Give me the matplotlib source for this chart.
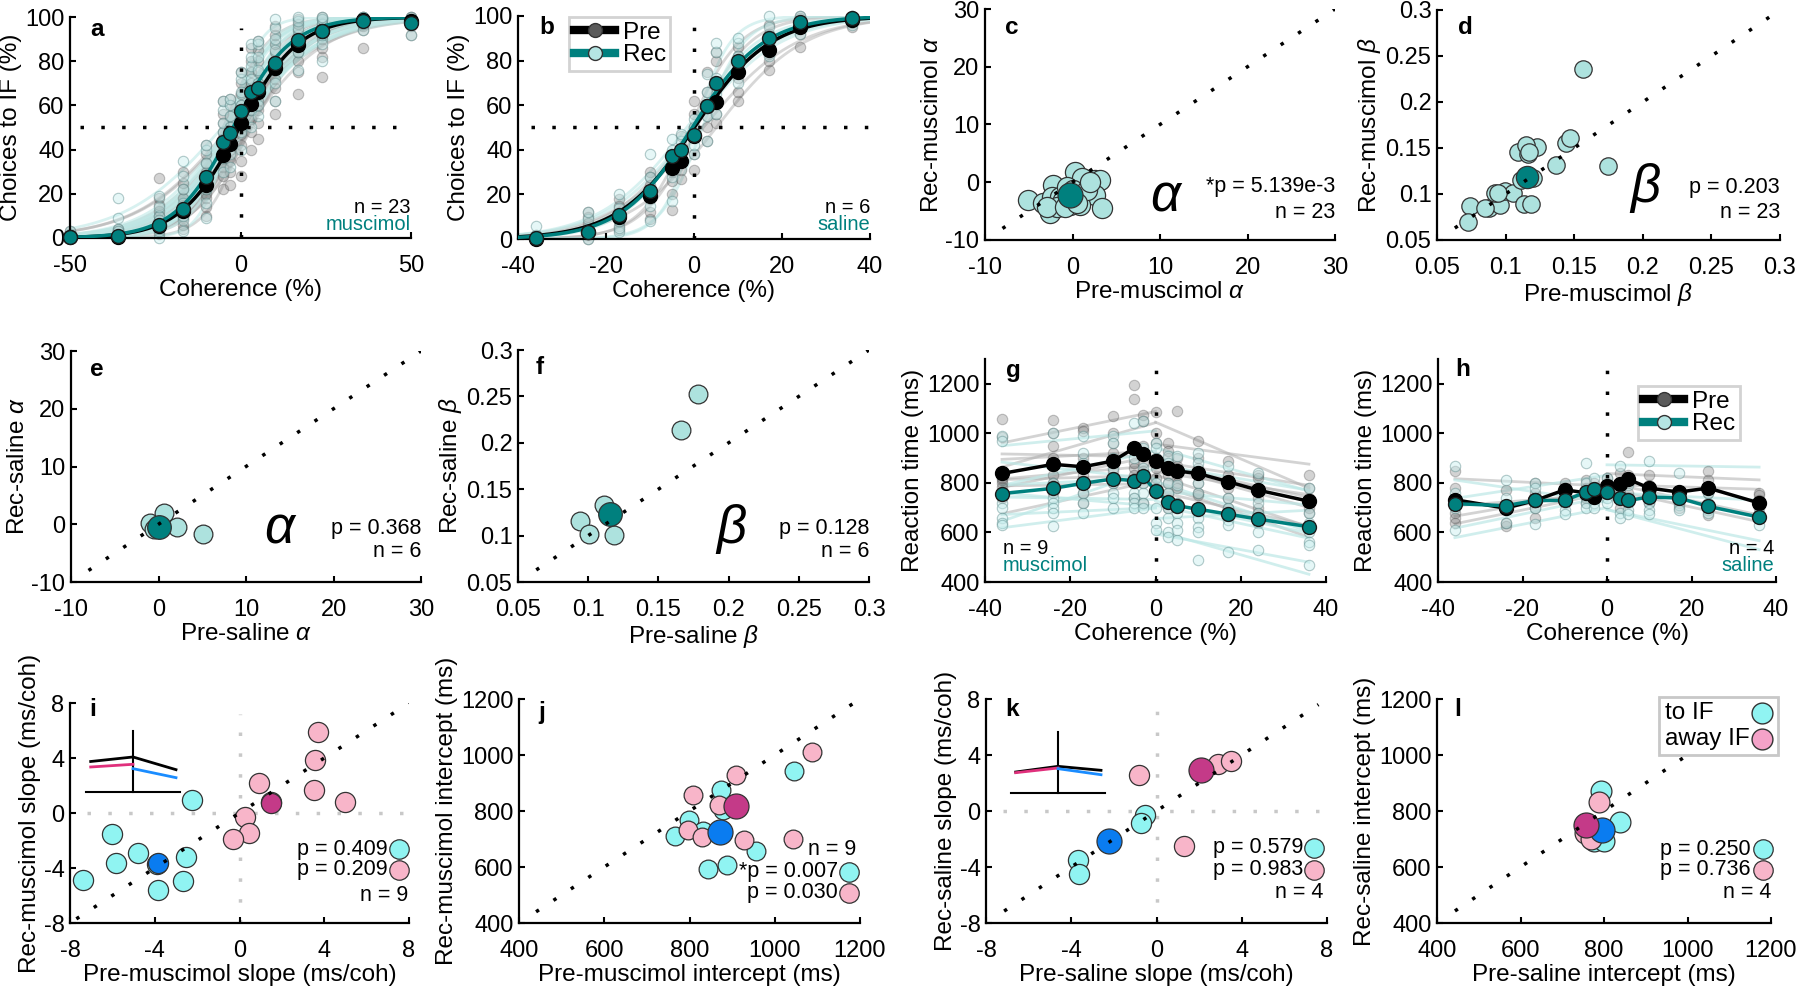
import numpy as np
import matplotlib
matplotlib.use('Agg')
import matplotlib.pyplot as plt
from matplotlib.lines import Line2D
from matplotlib.patches import Rectangle

plt.rcParams['font.family'] = ['Liberation Sans', 'DejaVu Sans']
plt.rcParams['mathtext.fontset'] = 'custom'
plt.rcParams['mathtext.it'] = 'Liberation Sans:italic'
plt.rcParams['mathtext.rm'] = 'Liberation Sans'
plt.rcParams['axes.unicode_minus'] = False

# ---------------- data ----------------
coh_a = [-50, -36, -24, -17, -10, -5, -3, 0, 3, 5, 10, 17, 24, 36, 50]
a_pre_mean = [0.5, 0.5, 5.3, 12, 24, 37.6, 42.6, 52.2, 60.6, 66.2, 76.7, 87.5, 93.7, 98.8, 98.2]
a_rec_mean = [0.5, 0.8, 5.9, 13.2, 27.8, 43.6, 47.4, 57.4, 66.2, 68, 79.2, 89.5, 93.7, 98.2, 97.3]
a_pre_dots = [[0, 1, 2, 0, 1, 3, 0, 2], [0, 1, 2, 3, 1, 0, 2, 1, 4],
              [2, 4, 6, 8, 10, 12, 15, 18, 27, 5, 7], [4, 6, 9, 12, 15, 18, 22, 25, 30, 10, 14],
              [10, 14, 18, 22, 26, 30, 34, 38, 42, 20, 28], [22, 28, 32, 36, 40, 44, 48, 52, 56, 62, 38],
              [24, 30, 35, 40, 45, 50, 55, 60, 63, 42], [28, 35, 42, 47, 50, 55, 60, 65, 70, 75, 52],
              [40, 48, 54, 58, 62, 66, 70, 75, 80, 86], [45, 52, 58, 62, 66, 70, 75, 80, 85, 89],
              [56, 62, 68, 72, 76, 80, 84, 88, 92, 96], [65, 75, 80, 84, 88, 91, 94, 97, 99],
              [73, 82, 86, 90, 93, 95, 97, 99, 100], [86, 94, 96, 98, 99, 100, 100],
              [92, 96, 98, 99, 100, 100]]
a_rec_dots = [[0, 1, 2, 1, 0, 3], [0, 2, 4, 9, 18, 1, 3], [0, 3, 6, 10, 14, 19, 8, 4],
              [3, 8, 12, 16, 22, 28, 35, 10], [9, 16, 22, 28, 34, 40, 42, 25],
              [30, 36, 42, 48, 52, 58, 62, 45], [32, 38, 44, 50, 55, 60, 63, 48],
              [40, 48, 55, 60, 66, 72, 75, 58], [50, 58, 64, 68, 72, 78, 82, 88],
              [55, 60, 66, 70, 76, 82, 88, 89], [62, 70, 76, 80, 85, 90, 95, 99],
              [76, 84, 88, 92, 95, 98, 100], [80, 88, 92, 95, 97, 99, 100],
              [94, 97, 99, 100, 100], [92, 97, 99, 100]]

coh_b = [-36, -24, -17, -10, -5, -3, 0, 3, 5, 10, 17, 24, 36]
b_pre_mean = [0.2, 3, 10, 19.3, 31.7, 35, 46.2, 59.6, 61.6, 75, 84.8, 95, 98]
b_rec_mean = [0.6, 3.3, 10.8, 21.7, 37, 40, 46.6, 59.6, 70, 80, 90.3, 97.2, 99]
b_pre_dots = [[0, 1, 0, 2, 1], [0, 2, 4, 7, 10, 12], [4, 6, 8, 11, 15, 18], [9, 12, 18, 24, 28, 30],
              [13, 20, 26, 30, 35, 38], [27, 31, 35, 40, 46], [31, 38, 46, 50, 56, 62],
              [44, 50, 55, 60, 66, 75], [52, 56, 62, 70, 80, 84], [62, 66, 72, 78, 82, 86],
              [76, 80, 83, 88, 92, 96], [86, 92, 95, 97, 99, 100], [95, 97, 98, 99, 100]]
b_rec_dots = [[0, 1, 2, 6], [0, 3, 5, 9, 12], [3, 5, 8, 14, 20], [8, 15, 22, 28, 38],
              [17, 28, 35, 40, 45], [36, 40, 44, 47], [38, 42, 46, 50, 54], [44, 55, 60, 66, 74],
              [56, 65, 72, 84, 88], [70, 78, 82, 88, 90], [82, 86, 90, 95, 100],
              [92, 96, 98, 100], [96, 98, 99, 100]]

# psychometric parameters (muscimol c/d, saline e/f)
c_pre_alpha = [-5.05, -3.33, -2.57, -2.19, -2.38, -1.43, 0.29, 1.05, 2.57, 3.14, 2.57, 3.33,
               0.86, -0.29, -1.05, -0.67, 0.10, -1.80, 1.60, -2.95, -0.86, 1.98, 0.48]
c_rec_alpha = [-3.08, -3.65, -5.38, -0.48, -2.50, -2.50, 1.83, 0.67, 0.39, 0.39, -2.20, -4.50,
               -3.90, -3.90, -3.10, -0.77, -1.34, -4.20, -1.30, -4.20, -4.20, 0.10, -3.65]
c_mean = [-0.29, -2.2]
d_pre_beta = [0.1567, 0.0738, 0.0729, 0.0876, 0.0960, 0.0924, 0.0995, 0.1055, 0.1133, 0.1186,
              0.1090, 0.1162, 0.1229, 0.1150, 0.1198, 0.1369, 0.1440, 0.1467, 0.1745, 0.1114,
              0.0948, 0.0852, 0.1174]
d_rec_beta = [0.2359, 0.0873, 0.0699, 0.0844, 0.0880, 0.1014, 0.1036, 0.1007, 0.0891, 0.0891,
              0.1460, 0.1435, 0.1514, 0.1533, 0.1170, 0.1315, 0.1550, 0.1612, 0.1308, 0.1152,
              0.1014, 0.0844, 0.1460]
d_mean = [0.1155, 0.1188]
e_pre_alpha = [-0.93, 0.59, 2.11, 5.05, -0.55, -0.17]
e_rec_alpha = [0.30, 1.91, -0.39, -1.65, -0.85, -0.39]
e_mean = [0.06, -0.4]
f_pre_beta = [0.1782, 0.1659, 0.0944, 0.1006, 0.1110, 0.1184]
f_rec_beta = [0.2522, 0.2137, 0.1158, 0.1014, 0.1327, 0.1004]
f_mean = [0.1153, 0.1237]

coh_rt = [-36, -24, -17, -10, -5, -3, 0, 3, 5, 10, 17, 24, 36]
g_pre_mean = [838, 875, 865, 888, 940, 915, 890, 859, 848, 838, 805, 771, 726]
g_rec_mean = [757, 778, 798, 816, 809, 828, 768, 724, 708, 694, 674, 654, 623]
g_pre_dots = [[1057, 985, 810, 785, 760, 740, 800, 820], [1055, 1000, 950, 900, 870, 830, 800, 780, 760],
              [1020, 1010, 900, 860, 830, 800, 760, 720], [1070, 1000, 960, 920, 880, 850, 800],
              [1195, 1140, 940, 880, 860, 830, 800, 740], [1075, 1050, 950, 920, 880, 850, 800, 720],
              [1085, 1000, 960, 900, 860, 820, 780], [960, 930, 900, 870, 830, 800, 760, 720, 700],
              [1090, 900, 870, 830, 800, 780, 720, 700], [970, 900, 860, 800, 760, 750, 700],
              [890, 830, 800, 780, 740, 700], [830, 820, 780, 740, 700, 680],
              [830, 780, 740, 720, 700, 680]]
g_rec_dots = [[990, 970, 760, 720, 700, 660, 640, 630], [1000, 800, 780, 740, 720, 700, 680, 625],
              [990, 920, 880, 800, 760, 720, 680], [990, 960, 900, 860, 800, 760, 740, 700],
              [1040, 900, 800, 760, 740, 720, 700], [1050, 940, 860, 800, 760, 720, 700],
              [960, 940, 900, 800, 760, 700, 640, 610], [910, 880, 800, 760, 700, 660, 600, 580],
              [910, 850, 790, 720, 680, 640, 610, 570], [920, 880, 800, 760, 700, 660, 620, 600, 490],
              [870, 800, 740, 700, 650, 630, 520], [840, 780, 720, 680, 640, 600, 530],
              [780, 720, 680, 640, 600, 560, 550, 470]]
h_pre_mean = [732, 698, 729, 772, 760, 745, 789, 797, 815, 779, 763, 779, 719]
h_rec_mean = [716, 708, 729, 729, 763, 775, 762, 739, 729, 743, 739, 705, 662]
h_pre_dots = [[850, 780, 720, 680, 660, 640], [770, 700, 640, 625], [800, 760, 700, 660],
              [800, 780, 760, 740], [810, 780, 760, 740, 720], [800, 760, 740], [820, 800, 780, 760],
              [840, 800, 760, 700], [925, 830, 800, 760], [830, 790, 760, 720], [760, 740, 720, 700],
              [850, 810, 760, 700, 670], [760, 750, 730, 700]]
h_rec_dots = [[870, 760, 700, 610], [810, 740, 690, 640], [800, 780, 700, 635], [740, 720, 690, 675],
              [880, 800, 720, 700], [820, 760, 720, 700], [820, 790, 740, 720], [870, 760, 680, 660],
              [790, 720, 690, 675], [890, 780, 720, 690, 675], [840, 760, 710, 690],
              [760, 720, 690, 680], [720, 680, 660, 630]]

# RT fit slopes (ms/coh) and intercepts (ms): muscimol i/j, saline k/l
i_to_pre = [-7.40, -6.03, -5.83, -4.78, -3.83, -2.54, -2.69, -2.26, -3.90]
i_to_rec = [-4.86, -1.55, -3.60, -2.88, -5.58, -3.17, -4.91, 0.94, -3.70]
i_to_mean = [-3.83, -3.65]
i_away_pre = [3.71, 3.56, 3.52, 4.97, 0.92, 0.25, 0.46, -0.33, 1.50]
i_away_rec = [5.90, 3.89, 1.67, 0.77, 2.20, -0.27, -1.47, -1.91, 0.80]
i_away_mean = [1.51, 0.75]
j_to_pre = [1045, 798, 832, 873, 879, 844, 887, 957, 767]
j_to_rec = [942, 767, 727, 874, 805, 594, 608, 656, 710]
j_to_mean = [871, 725]
j_away_pre = [809, 910, 1088, 1043, 928, 797, 830, 905, 870]
j_away_rec = [858, 930, 1010, 700, 698, 733, 706, 815, 820]
j_away_mean = [908, 817]
k_to_pre = [-0.52, -0.72, -3.69, -3.62]
k_to_rec = [-0.26, -0.86, -3.48, -4.48]
k_to_mean = [-2.21, -2.17]
k_away_pre = [-0.83, 1.29, 2.90, 3.48]
k_away_rec = [2.60, -2.52, 3.36, 3.55]
k_away_mean = [2.10, 2.95]
l_to_pre = [793, 838, 776, 801]
l_to_rec = [873, 761, 692, 692]
l_to_mean = [795, 731]
l_away_pre = [787, 754, 770, 760]
l_away_rec = [831, 721, 700, 745]
l_away_mean = [758, 751]

# ---------------- style ----------------
W, H = 1800, 996
TEAL = '#00807e'
LTEAL = '#ade2de'
CYAN = '#90f4f2'
PINK = '#f8b5c9'
BLUE = '#0a7cf0'
MAG = '#c43a88'
EDGE = '#333333'
TICK_FS = 17
LAB_FS = 17.5
ANN_FS = 15.5
DOT = (0, (1, 5))

fig = plt.figure(figsize=(W / 100, H / 100), dpi=100)


def fx(x):
    return x / W


def fy(y):
    return 1 - y / H


def add_ax(l, t, r, b):
    return fig.add_axes([l / W, 1 - b / H, (r - l) / W, (b - t) / H])


def style(ax, xl, yl):
    for s in ['top', 'right']:
        ax.spines[s].set_visible(False)
    for s in ['left', 'bottom']:
        ax.spines[s].set_linewidth(1.6)
    ax.tick_params(direction='in', length=4.5, width=1.5, labelsize=TICK_FS)
    ax.tick_params(axis='x', pad=12)
    ax.tick_params(axis='y', pad=4)
    ax.set_xlabel(xl, fontsize=LAB_FS, labelpad=2)
    ax.set_ylabel(yl, fontsize=LAB_FS, labelpad=2)


def letter(ax, s, x, y):
    fig.text(fx(x), fy(y), s, fontsize=17.5, fontweight='bold', ha='center', va='center')


def psych(ax, coh, pre_mean, rec_mean, pre_dots, rec_dots, pa, pb, ra, rb, pm, rm, xlim):
    xs = np.linspace(xlim[0], xlim[1], 300)
    for al, be in zip(pa, pb):
        ax.plot(xs, 100 / (1 + np.exp(-be * (xs - al))), color='#a8a8a8', lw=2, alpha=0.45, zorder=1)
    for al, be in zip(ra, rb):
        ax.plot(xs, 100 / (1 + np.exp(-be * (xs - al))), color='#bfe8e6', lw=2, alpha=0.6, zorder=1)
    for c, vals in zip(coh, pre_dots):
        ax.plot([c] * len(vals), vals, 'o', ms=7.5, mfc='#707070', mec='#404040', mew=0.8,
                alpha=0.3, zorder=2, clip_on=False)
    for c, vals in zip(coh, rec_dots):
        ax.plot([c] * len(vals), vals, 'o', ms=7.5, mfc='#c8eeee', mec='#5a8a8a', mew=0.8,
                alpha=0.45, zorder=2, clip_on=False)
    ax.plot([0, 0], [0, 95], color='k', ls=DOT, lw=2.5, zorder=3)
    ax.plot([xlim[0] + 3, xlim[1]], [50, 50], color='k', ls=DOT, lw=2.5, zorder=3)
    ax.plot(xs, 100 / (1 + np.exp(-pm[1] * (xs - pm[0]))), color='k', lw=2.5, zorder=4)
    ax.plot(xs, 100 / (1 + np.exp(-rm[1] * (xs - rm[0]))), color=TEAL, lw=2.5, zorder=5)
    ax.plot(coh, pre_mean, 'o', ms=10, mfc='k', mec='k', zorder=6, clip_on=False)
    ax.plot(coh, rec_mean, 'o', ms=10, mfc=TEAL, mec='#1a1a1a', mew=1, zorder=7, clip_on=False)
    ax.set_xlim(*xlim)
    ax.set_ylim(0, 100)
    ax.set_yticks([0, 20, 40, 60, 80, 100])


def param_scatter(ax, px, py, mean, lim, diag, ms, mms):
    ax.plot(diag, diag, color='k', ls=DOT, lw=2.5, zorder=5)
    ax.plot(px, py, 'o', ms=ms, mfc=LTEAL, mec=EDGE, mew=0.9, zorder=3, clip_on=False)
    ax.plot([mean[0]], [mean[1]], 'o', ms=mms, mfc=TEAL, mec=EDGE, mew=0.9, zorder=4)
    ax.set_xlim(*lim)
    ax.set_ylim(*lim)


def rt_panel(ax, pre_mean, rec_mean, pre_dots, rec_dots, to_pre, to_rec, aw_pre, aw_rec,
             ti_pre, ti_rec, ai_pre, ai_rec):
    left = np.array([-36, 0])
    right = np.array([0, 36])
    for s_to, s_aw, i_to, i_aw in zip(to_pre, aw_pre, ti_pre, ai_pre):
        ax.plot(left, i_aw + s_aw * left, color='#b0b0b0', lw=2, alpha=0.55, zorder=1)
        ax.plot(right, i_to + s_to * right, color='#b0b0b0', lw=2, alpha=0.55, zorder=1)
    for s_to, s_aw, i_to, i_aw in zip(to_rec, aw_rec, ti_rec, ai_rec):
        ax.plot(left, i_aw + s_aw * left, color='#bde8e6', lw=2, alpha=0.7, zorder=1)
        ax.plot(right, i_to + s_to * right, color='#bde8e6', lw=2, alpha=0.7, zorder=1)
    for c, vals in zip(coh_rt, pre_dots):
        ax.plot([c] * len(vals), vals, 'o', ms=7.5, mfc='#707070', mec='#404040', mew=0.8,
                alpha=0.3, zorder=2)
    for c, vals in zip(coh_rt, rec_dots):
        ax.plot([c] * len(vals), vals, 'o', ms=7.5, mfc='#c8eeee', mec='#5a8a8a', mew=0.8,
                alpha=0.45, zorder=2)
    ax.plot([0, 0], [400, 1260], color='k', ls=DOT, lw=2.5, zorder=3)
    ax.plot(coh_rt, pre_mean, '-o', color='k', lw=2.5, ms=10, mfc='k', mec='k', zorder=6)
    ax.plot(coh_rt, rec_mean, '-o', color=TEAL, lw=2.5, ms=10, mfc=TEAL, mec='#1a1a1a', zorder=7)
    ax.set_xlim(-40, 40)
    ax.set_ylim(400, 1300)
    ax.set_xticks([-40, -20, 0, 20, 40])
    ax.set_yticks([400, 600, 800, 1000, 1200])


def slope_panel(ax, to_p, to_r, aw_p, aw_r, to_m, aw_m, lim, diag, zero_lines, ms, mms):
    if zero_lines:
        ax.plot([0, 0], [lim[0], lim[1] - 0.8], color='#c8c8c8', ls=DOT, lw=2.5, zorder=1)
        ax.plot([lim[0] + 0.8, lim[1]], [0, 0], color='#c8c8c8', ls=DOT, lw=2.5, zorder=1)
    ax.plot(to_p, to_r, 'o', ms=ms, mfc=CYAN, mec=EDGE, mew=0.9, zorder=3, clip_on=False)
    ax.plot(aw_p, aw_r, 'o', ms=ms, mfc=PINK, mec=EDGE, mew=0.9, zorder=3, clip_on=False)
    ax.plot([to_m[0]], [to_m[1]], 'o', ms=mms, mfc=BLUE, mec=EDGE, mew=0.9, zorder=4)
    ax.plot([aw_m[0]], [aw_m[1]], 'o', ms=mms, mfc=MAG, mec=EDGE, mew=0.9, zorder=4)
    ax.plot(diag, diag, color='k', ls=DOT, lw=2.5, zorder=5)
    ax.set_xlim(*lim)
    ax.set_ylim(*lim)


def ptext(ax, lines, xr, ys, circ_x=None, fs=ANN_FS):
    for (txt, col), y in zip(lines, ys):
        ax.text(xr, y, txt, transform=ax.transAxes, ha='right', va='center', fontsize=fs)
        if col is not None:
            ax.plot([circ_x], [y], 'o', ms=14, mfc=col, mec=EDGE, mew=0.9,
                    transform=ax.transAxes, clip_on=False, zorder=8)


# ---------------- panel a ----------------
ax = add_ax(70, 17, 411, 238)
psych(ax, coh_a, a_pre_mean, a_rec_mean, a_pre_dots, a_rec_dots, c_pre_alpha, d_pre_beta,
      c_rec_alpha, d_rec_beta, [c_mean[0], d_mean[0]], [c_mean[1], d_mean[1]], (-50, 50))
ax.set_xticks([-50, 0, 50])
style(ax, 'Coherence (%)', 'Choices to IF (%)')
ax.text(1.0, 0.14, 'n = 23', transform=ax.transAxes, ha='right', va='center', fontsize=14.5)
ax.text(1.0, 0.063, 'muscimol', transform=ax.transAxes, ha='right', va='center', fontsize=14.5, color=TEAL)
letter(ax, 'a', 97, 29)

# ---------------- panel b ----------------
ax = add_ax(518, 16, 870, 239)
psych(ax, coh_b, b_pre_mean, b_rec_mean, b_pre_dots, b_rec_dots, e_pre_alpha, f_pre_beta,
      e_rec_alpha, f_rec_beta, [e_mean[0], f_mean[0]], [e_mean[1], f_mean[1]], (-40, 40))
ax.set_xticks([-40, -20, 0, 20, 40])
style(ax, 'Coherence (%)', 'Choices to IF (%)')
ax.text(1.0, 0.143, 'n = 6', transform=ax.transAxes, ha='right', va='center', fontsize=14.5)
ax.text(1.0, 0.067, 'saline', transform=ax.transAxes, ha='right', va='center', fontsize=14.5, color=TEAL)
letter(ax, 'b', 547, 27)
handles = [Line2D([0], [0], color='k', lw=6, marker='o', ms=10, mfc='#5a5a5a', mec='#333333'),
           Line2D([0], [0], color=TEAL, lw=6, marker='o', ms=10, mfc='#b5e5e3', mec='#333333')]
leg = ax.legend(handles, ['Pre', 'Rec'], loc='upper left', bbox_to_anchor=(0.145, 0.995),
                borderaxespad=0, fontsize=17.5, handlelength=1.7, handletextpad=0.3, borderpad=0.2,
                labelspacing=0.02, fancybox=False, edgecolor='#c8c8c8')
leg.get_frame().set_linewidth(2)

# ---------------- panel c ----------------
ax = add_ax(985, 9, 1335, 240)
param_scatter(ax, c_pre_alpha, c_rec_alpha, c_mean, (-10, 30), [-8, 30], 14.5, 18)
ax.set_xticks([-10, 0, 10, 20, 30]); ax.set_yticks([-10, 0, 10, 20, 30])
style(ax, r'Pre-muscimol $\alpha$', r'Rec-muscimol $\alpha$')
ax.text(0.52, 0.19, r'$\alpha$', transform=ax.transAxes, ha='center', va='center', fontsize=38)
ptext(ax, [('*p = 5.139e-3', None), ('n = 23', None)], 1.0, [0.23, 0.12])
letter(ax, 'c', 1012, 28)

# ---------------- panel d ----------------
ax = add_ax(1437, 10, 1780, 240)
param_scatter(ax, d_pre_beta, d_rec_beta, d_mean, (0.05, 0.3), [0.063, 0.3], 12.5, 16)
bt = [0.05, 0.1, 0.15, 0.2, 0.25, 0.3]
btl = ['0.05', '0.1', '0.15', '0.2', '0.25', '0.3']
ax.set_xticks(bt, btl); ax.set_yticks(bt, btl)
style(ax, r'Pre-muscimol $\beta$', r'Rec-muscimol $\beta$')
ax.text(0.606, 0.226, r'$\beta$', transform=ax.transAxes, ha='center', va='center', fontsize=38)
ptext(ax, [('p = 0.203', None), ('n = 23', None)], 1.0, [0.23, 0.12])
letter(ax, 'd', 1465, 27)

# ---------------- panel e ----------------
ax = add_ax(71, 351, 421, 582)
param_scatter(ax, e_pre_alpha, e_rec_alpha, e_mean, (-10, 30), [-8, 30], 13.5, 17)
ax.set_xticks([-10, 0, 10, 20, 30]); ax.set_yticks([-10, 0, 10, 20, 30])
style(ax, r'Pre-saline $\alpha$', r'Rec-saline $\alpha$')
ax.text(0.60, 0.23, r'$\alpha$', transform=ax.transAxes, ha='center', va='center', fontsize=38)
ptext(ax, [('p = 0.368', None), ('n = 6', None)], 1.0, [0.23, 0.13])
letter(ax, 'e', 97, 370)

# ---------------- panel f ----------------
ax = add_ax(518, 350, 869, 582)
param_scatter(ax, f_pre_beta, f_rec_beta, f_mean, (0.05, 0.3), [0.063, 0.3], 13.5, 17)
ax.set_xticks(bt, btl); ax.set_yticks(bt, btl)
style(ax, r'Pre-saline $\beta$', r'Rec-saline $\beta$')
ax.text(0.607, 0.23, r'$\beta$', transform=ax.transAxes, ha='center', va='center', fontsize=38)
ptext(ax, [('p = 0.128', None), ('n = 6', None)], 1.0, [0.23, 0.13])
letter(ax, 'f', 540, 368)

# ---------------- panel g ----------------
ax = add_ax(985, 359, 1326, 582)
rt_panel(ax, g_pre_mean, g_rec_mean, g_pre_dots, g_rec_dots, i_to_pre, i_to_rec, i_away_pre,
         i_away_rec, j_to_pre, j_to_rec, j_away_pre, j_away_rec)
style(ax, 'Coherence (%)', 'Reaction time (ms)')
ax.text(0.053, 0.152, 'n = 9', transform=ax.transAxes, ha='left', va='center', fontsize=14.5)
ax.text(0.053, 0.076, 'muscimol', transform=ax.transAxes, ha='left', va='center', fontsize=14.5, color=TEAL)
letter(ax, 'g', 1013, 370)

# ---------------- panel h ----------------
ax = add_ax(1438, 359, 1776, 582)
rt_panel(ax, h_pre_mean, h_rec_mean, h_pre_dots, h_rec_dots, k_to_pre, k_to_rec, k_away_pre,
         k_away_rec, l_to_pre, l_to_rec, l_away_pre, l_away_rec)
style(ax, 'Coherence (%)', 'Reaction time (ms)')
ax.text(0.995, 0.152, 'n = 4', transform=ax.transAxes, ha='right', va='center', fontsize=14.5)
ax.text(0.995, 0.076, 'saline', transform=ax.transAxes, ha='right', va='center', fontsize=14.5, color=TEAL)
letter(ax, 'h', 1463, 370)
leg = ax.legend(handles, ['Pre', 'Rec'], loc='upper left', bbox_to_anchor=(0.592, 0.879),
                borderaxespad=0, fontsize=17.5, handlelength=1.7, handletextpad=0.3, borderpad=0.2,
                labelspacing=0.02, fancybox=False, edgecolor='#c8c8c8')
leg.get_frame().set_linewidth(2)

# ---------------- panel i ----------------
ax = add_ax(70, 703, 409, 923)
slope_panel(ax, i_to_pre, i_to_rec, i_away_pre, i_away_rec, i_to_mean, i_away_mean, (-8, 8),
            [-7.7, 8], True, 14.5, 14.5)
ax.set_xticks([-8, -4, 0, 4, 8]); ax.set_yticks([-8, -4, 0, 4, 8])
style(ax, 'Pre-muscimol slope (ms/coh)', 'Rec-muscimol slope (ms/coh)')
ptext(ax, [('p = 0.409', CYAN), ('p = 0.209', PINK)], 0.938, [0.336, 0.241], 0.971)
ptext(ax, [('n = 9', None)], 0.997, [0.127])
letter(ax, 'i', 93, 709)

# ---------------- panel j ----------------
ax = add_ax(519, 699, 860, 923)
slope_panel(ax, j_to_pre, j_to_rec, j_away_pre, j_away_rec, j_to_mean, j_away_mean, (400, 1200),
            [440, 1200], False, 13.5, 18)
ax.set_xticks([400, 600, 800, 1000, 1200]); ax.set_yticks([400, 600, 800, 1000, 1200])
style(ax, 'Pre-muscimol intercept (ms)', 'Rec-muscimol intercept (ms)')
ptext(ax, [('n = 9', None)], 0.99, [0.33])
ptext(ax, [('*p = 0.007', CYAN), ('p = 0.030', PINK)], 0.935, [0.228, 0.134], 0.968)
letter(ax, 'j', 542, 712)

# ---------------- panel k ----------------
ax = add_ax(986, 699, 1327, 923)
slope_panel(ax, k_to_pre, k_to_rec, k_away_pre, k_away_rec, k_to_mean, k_away_mean, (-8, 8),
            [-7.15, 7.6], True, 14.5, 18)
ax.set_xticks([-8, -4, 0, 4, 8]); ax.set_yticks([-8, -4, 0, 4, 8])
style(ax, 'Pre-saline slope (ms/coh)', 'Rec-saline slope (ms/coh)')
ptext(ax, [('p = 0.579', CYAN), ('p = 0.983', PINK)], 0.93, [0.335, 0.237], 0.962)
ptext(ax, [('n = 4', None)], 0.99, [0.134])
letter(ax, 'k', 1012, 709)

# ---------------- panel l ----------------
ax = add_ax(1437, 699, 1771, 923)
slope_panel(ax, l_to_pre, l_to_rec, l_away_pre, l_away_rec, l_to_mean, l_away_mean, (400, 1200),
            [443, 1200], False, 15, 18)
ax.set_xticks([400, 600, 800, 1000, 1200]); ax.set_yticks([400, 600, 800, 1000, 1200])
style(ax, 'Pre-saline intercept (ms)', 'Rec-saline intercept (ms)')
ptext(ax, [('p = 0.250', CYAN), ('p = 0.736', PINK)], 0.94, [0.33, 0.237], 0.975)
ptext(ax, [('n = 4', None)], 1.0, [0.134])
letter(ax, 'l', 1458, 709)

# manual legend for panel l (text left-aligned, markers on the right)
fig.add_artist(Rectangle((fx(1659), fy(755)), fx(1778) - fx(1659), fy(697) - fy(755),
                         transform=fig.transFigure, fill=True, facecolor='white',
                         edgecolor='#c8c8c8', lw=2, zorder=10))
leg_labels = ['to IF', 'away IF']
leg_colors = [CYAN, '#f4a2c8']
leg_ys = [713, 739]
for lab, col, yy in zip(leg_labels, leg_colors, leg_ys):
    fig.text(fx(1665), fy(yy), lab, fontsize=17.5, ha='left', va='center', zorder=11)
    fig.add_artist(Line2D([fx(1762)], [fy(yy)], ls='', marker='o', ms=15, mfc=col, mec=EDGE,
                          transform=fig.transFigure, zorder=11))

# ---------------- insets (schematics) ----------------
ins_x3 = [-0.9, 0, 0.915]
ins_i_black = [0.50, 0.574, 0.366]
ins_i_pink = [0.41, 0.454]
ins_i_blue = [0.383, 0.235]
ins_k_black = [0.344, 0.437, 0.372]
ins_k_pink = [0.333, 0.41]
ins_k_blue = [0.399, 0.30]
for (l, t, r, b), bl, pk, bu in [((86, 731, 180, 792), ins_i_black, ins_i_pink, ins_i_blue),
                                  ((1011, 732, 1105, 793), ins_k_black, ins_k_pink, ins_k_blue)]:
    iax = add_ax(l, t, r, b)
    iax.axis('off')
    iax.set_xlim(-1, 1); iax.set_ylim(0, 1)
    iax.plot([-1, 1], [0, 0], color='k', lw=1.5, clip_on=False)
    iax.plot([0, 0], [0, 1], color='k', lw=1.5, clip_on=False)
    iax.plot(ins_x3, bl, color='k', lw=2)
    iax.plot(ins_x3[:2], pk, color='#e0307c', lw=2)
    iax.plot(ins_x3[1:], bu, color='#1a8cff', lw=2)

fig.savefig('out.png', dpi=100)
